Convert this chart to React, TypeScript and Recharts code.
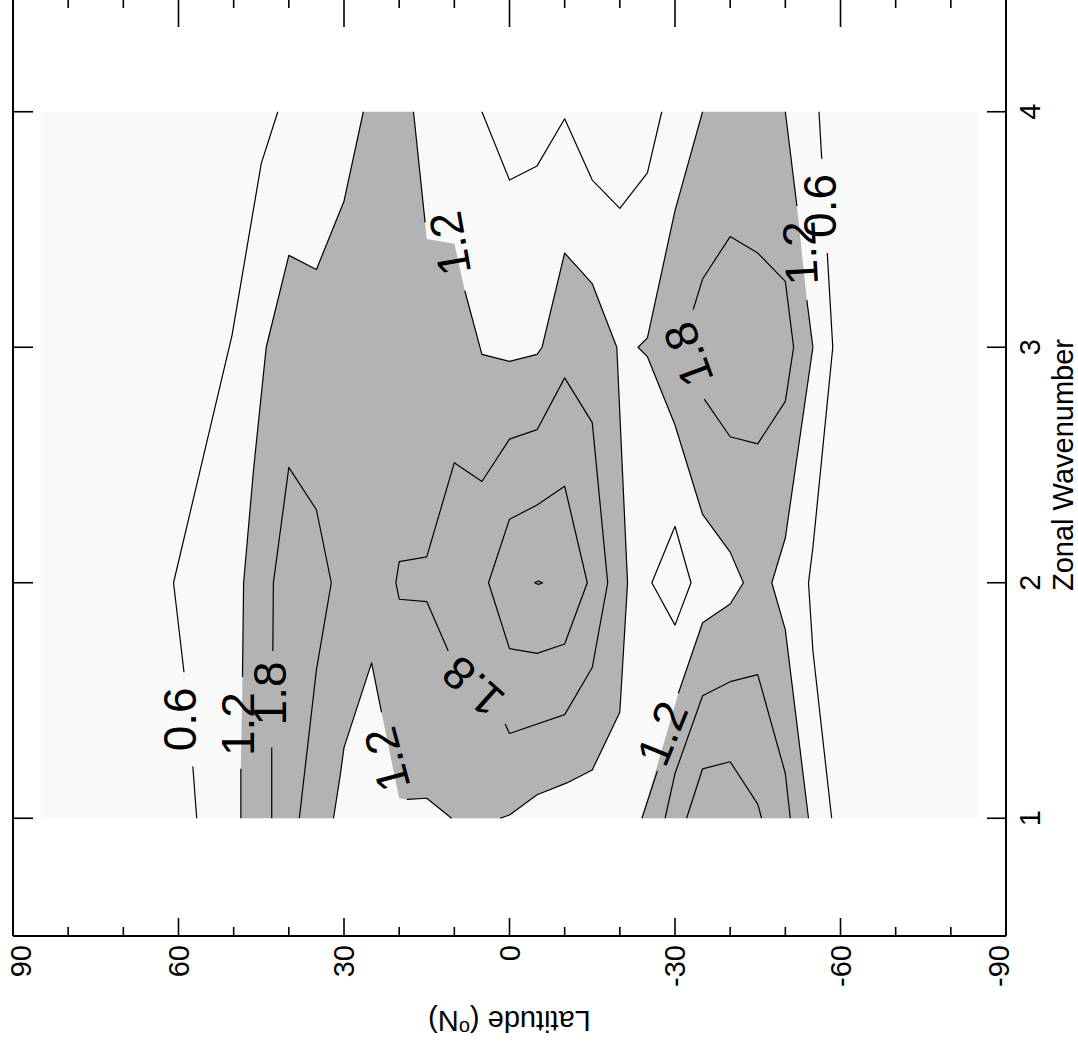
import React from "react";
import { ComposedChart, Scatter, XAxis, YAxis } from "recharts";

const FONT = "'Liberation Sans', Arial, Helvetica, sans-serif";

// axis ticks
const latTicks = [90, 80, 70, 60, 50, 40, 30, 20, 10, 0, -10, -20, -30, -40, -50, -60, -70, -80, -90];
const latLabels = [90, 60, 30, 0, -30, -60, -90];
const waveTicks = [1, 2, 3, 4];
const waveTitleAt = 2.5;

// extent of the gridded field
const fieldLat = [85, 85, -85, -85];
const fieldK = [1, 4, 4, 1];

// shaded region (>= 1.2), north + tropics
const shadeNLat = [26.5, 30, 35, 40, 44.1, 46.4, 48.2, 48.4, 48.7, 48.7, 31.9, 30.7, 30, 25, 23.2, 20, 18.6, 15, 10.5, 1.7, 0, -5, -10.4, -15, -20, -21.4, -19.45, -15, -10, -5.9, -5, 0, 5, 8.1, 10, 15, 15.3, 17.4];
const shadeNK = [4, 3.62, 3.33, 3.39, 3.0, 2.48, 2.0, 1.6, 1.21, 1, 1, 1.18, 1.3, 1.66, 1.45, 1.085, 1.08, 1.085, 1, 1, 1.014, 1.1, 1.15, 1.205, 1.45, 2.0, 3.0, 3.27, 3.4, 3.0, 2.97, 2.94, 2.97, 3.24, 3.44, 3.46, 3.53, 4];

// shaded region (>= 1.2), southern band
const shadeSLat = [-35, -50, -52.1, -53.9, -55, -50, -47.55, -50, -54.2, -24.0, -30.6, -35, -40, -42.4, -40, -35, -30, -25, -23.3, -25, -30];
const shadeSK = [4, 4, 3.6, 3.2, 3.0, 2.19, 2.0, 1.8, 1, 1, 1.53, 1.83, 1.91, 2.0, 2.13, 2.29, 2.67, 2.96, 3.0, 3.04, 3.58];

// contour lines (broken where labels sit)
const west06aLat = [42, 45, 50.3, 60.9, 59.0];
const west06aK = [4, 3.78, 3.05, 2.0, 1.62];
const west06bLat = [57.4, 56.7];
const west06bK = [1.22, 1];

const west12aLat = [26.5, 30, 35, 40, 44.1, 46.4, 48.2, 48.4];
const west12aK = [4, 3.62, 3.33, 3.39, 3.0, 2.48, 2.0, 1.6];
const west12bLat = [48.7, 48.7];
const west12bK = [1.21, 1];

const wedge12aLat = [31.9, 30.7, 30, 25, 23.2];
const wedge12aK = [1, 1.18, 1.3, 1.66, 1.45];
const wedge12bLat = [18.6, 15, 10.5];
const wedge12bK = [1.08, 1.085, 1];

const mid12aLat = [1.7, 0, -5, -10.4, -15, -20, -21.4, -19.45, -15, -10, -5.9, -5, 0, 5, 8.1];
const mid12aK = [1, 1.014, 1.1, 1.15, 1.205, 1.45, 2.0, 3.0, 3.27, 3.4, 3.0, 2.97, 2.94, 2.97, 3.24];
const mid12bLat = [15.3, 17.4];
const mid12bK = [3.53, 4];

const west18aLat = [43.1, 43.1];
const west18aK = [1, 1.3];
const west18bLat = [42.9, 42.8, 40, 35, 32.3, 35, 38.1];
const west18bK = [1.71, 2.0, 2.49, 2.31, 2.0, 1.63, 1];

const mid18Lat = [11.1, 15, 20, 20.6, 20, 15, 10, 5, 0, -5, -10, -15, -17.8, -15, -10, 0, 0.8];
const mid18K = [1.71, 1.92, 1.93, 2.0, 2.09, 2.11, 2.51, 2.43, 2.61, 2.65, 2.87, 2.68, 2.0, 1.64, 1.44, 1.36, 1.4];

const mid24Lat = [0, -5, -10, -14.1, -10, -5, 0, 3.8, 0];
const mid24K = [2.27, 2.33, 2.41, 2.0, 1.74, 1.7, 1.72, 2.0, 2.27];

const mid30Lat = [-4.5, -5.25, -6, -5.25, -4.5];
const mid30K = [2, 2.007, 2, 1.993, 2];

const top06Lat = [5, 0, -5, -10, -15, -20, -25, -27.6];
const top06K = [4, 3.71, 3.77, 3.97, 3.71, 3.59, 3.74, 4];

const dip06Lat = [-30, -32.9, -30, -25.8, -30];
const dip06K = [2.24, 2.0, 1.82, 2.0, 2.24];

const south12LaLat = [-35, -30, -25, -23.3, -25, -30, -35, -40, -42.4, -40, -35, -30.6];
const south12LaK = [4, 3.58, 3.04, 3.0, 2.96, 2.67, 2.29, 2.13, 2.0, 1.91, 1.83, 1.53];
const south12LbLat = [-26.8, -24.0];
const south12LbK = [1.2, 1];

const south12RaLat = [-50, -52.1];
const south12RaK = [4, 3.6];
const south12RbLat = [-53.9, -55, -50, -47.55, -50, -54.2];
const south12RbK = [3.2, 3.0, 2.19, 2.0, 1.8, 1];

const south18aLat = [-35.3, -40, -45, -50, -51.5, -50, -45, -40, -35, -33.3];
const south18aK = [2.78, 2.62, 2.59, 2.77, 3.0, 3.28, 3.4, 3.47, 3.29, 3.16];
const south18bLat = [-28.2, -30, -35, -40, -45, -50, -50.9];
const south18bK = [1, 1.19, 1.52, 1.58, 1.61, 1.19, 1];
const south24Lat = [-32.1, -35, -40, -45, -45.7];
const south24K = [1, 1.21, 1.24, 1.06, 1];

const south06aLat = [-56.1, -56.6];
const south06aK = [4, 3.8];
const south06bLat = [-57.6, -58.6, -55, -54.2, -55, -58.4];
const south06bK = [3.4, 3.0, 2.15, 2.0, 1.71, 1];

// contour labels
const labelText = ["0.6", "1.2", "1.8", "1.2", "1.8", "1.2", "1.8", "1.2", "1.2", "0.6"];
const labelLat = [59.7, 49.2, 43.4, 22.2, 6.6, 10.8, -32.4, -27.7, -52.7, -56.3];
const labelK = [1.42, 1.4, 1.53, 1.25, 1.56, 3.44, 2.97, 1.36, 3.4, 3.6];
const labelAngle = [-90, -90, -90, -105, -138, -100, -110, -68, -93, -90];

const pts = (lat: number[], k: number[]) => lat.map((v, i) => ({ lat: v, k: k[i] }));

const shades = [pts(shadeNLat, shadeNK), pts(shadeSLat, shadeSK)];

const contours = [
  pts(west06aLat, west06aK), pts(west06bLat, west06bK),
  pts(west12aLat, west12aK), pts(west12bLat, west12bK),
  pts(wedge12aLat, wedge12aK), pts(wedge12bLat, wedge12bK),
  pts(mid12aLat, mid12aK), pts(mid12bLat, mid12bK),
  pts(west18aLat, west18aK), pts(west18bLat, west18bK),
  pts(mid18Lat, mid18K), pts(mid24Lat, mid24K), pts(mid30Lat, mid30K),
  pts(top06Lat, top06K), pts(dip06Lat, dip06K),
  pts(south12LaLat, south12LaK), pts(south12LbLat, south12LbK),
  pts(south12RaLat, south12RaK), pts(south12RbLat, south12RbK),
  pts(south18aLat, south18aK), pts(south18bLat, south18bK), pts(south24Lat, south24K),
  pts(south06aLat, south06aK), pts(south06bLat, south06bK),
];

const labels = labelText.map((t, i) => ({ lat: labelLat[i], k: labelK[i], text: t, angle: labelAngle[i] }));

const NoDot = () => <g />;

const ContourLabel = (p: any) => {
  const { cx, cy, payload } = p;
  return (
    <text x={cx} y={cy} transform={`rotate(${payload.angle} ${cx} ${cy})`} textAnchor="middle"
      dominantBaseline="central" fontSize={46} fontFamily={FONT} fill="#000">
      {payload.text}
    </text>
  );
};

const BottomTick = ({ x, y, payload }: any) => {
  const v = payload.value;
  const major = latLabels.includes(v);
  const lx = x + (v === 90 ? 8 : v === -90 ? -7 : 0);
  return (
    <g>
      <line x1={x} x2={x} y1={y} y2={y - (major ? 18 : 9)} stroke="#000" strokeWidth={1.6} />
      {major && (
        <text x={lx} y={y + 9} transform={`rotate(-90 ${lx} ${y + 9})`} textAnchor="end"
          dominantBaseline="central" fontSize={29} fontFamily={FONT} fill="#000">
          {v}
        </text>
      )}
      {v === 0 && (
        <text x={x} y={y + 75} transform={`rotate(180 ${x} ${y + 75})`} textAnchor="middle"
          fontSize={29} fontFamily={FONT} fill="#000">
          Latitude (<tspan dy={-10} fontSize={20}>o</tspan><tspan dy={10}>N)</tspan>
        </text>
      )}
    </g>
  );
};

const TopTick = ({ x, y, payload }: any) => {
  const major = latLabels.includes(payload.value);
  return <line x1={x} x2={x} y1={y} y2={y + (major ? 33 : 14)} stroke="#000" strokeWidth={1.6} />;
};

const LeftTick = ({ x, y }: any) => <line x1={x} x2={x + 20} y1={y} y2={y} stroke="#000" strokeWidth={1.6} />;

const RightTick = ({ x, y, payload }: any) => {
  const v = payload.value;
  if (v === waveTitleAt) {
    return (
      <text x={x + 67} y={y} transform={`rotate(-90 ${x + 67} ${y})`} textAnchor="middle"
        fontSize={29} fontFamily={FONT} fill="#000">
        Zonal Wavenumber
      </text>
    );
  }
  return (
    <g>
      <line x1={x} x2={x - 19} y1={y} y2={y} stroke="#000" strokeWidth={1.6} />
      <text x={x + 24} y={y} transform={`rotate(-90 ${x + 24} ${y})`} textAnchor="middle"
        dominantBaseline="central" fontSize={29} fontFamily={FONT} fill="#000">
        {v}
      </text>
    </g>
  );
};

const frame = { stroke: "#000", strokeWidth: 2 };

export default function App() {
  return (
    <div style={{ position: "absolute", left: 0, top: -10, width: 1078, height: 1052 }}>
      <ComposedChart width={1078} height={1052} margin={{ top: 0, right: 0, bottom: 0, left: 0 }}>
        <XAxis xAxisId="b" orientation="bottom" type="number" dataKey="lat" domain={[-90, 90]} reversed
          allowDataOverflow ticks={latTicks} interval={0} height={106} tickSize={0} tickMargin={0}
          tickLine={false} axisLine={frame} tick={BottomTick} />
        <XAxis xAxisId="t" orientation="top" type="number" dataKey="lat" domain={[-90, 90]} reversed
          allowDataOverflow ticks={latTicks} interval={0} height={4} tickSize={0} tickMargin={0}
          tickLine={false} axisLine={frame} tick={TopTick} />
        <YAxis yAxisId="r" orientation="right" type="number" dataKey="k" domain={[0.5, 4.5]}
          allowDataOverflow ticks={[...waveTicks, waveTitleAt]} interval={0} width={72} tickSize={0}
          tickMargin={0} tickLine={false} axisLine={frame} tick={RightTick} />
        <YAxis yAxisId="l" orientation="left" type="number" dataKey="k" domain={[0.5, 4.5]}
          allowDataOverflow ticks={waveTicks} interval={0} width={13} tickSize={0} tickMargin={0}
          tickLine={false} axisLine={frame} tick={LeftTick} />

        <Scatter xAxisId="b" yAxisId="r" data={pts(fieldLat, fieldK)} shape={NoDot}
          line={{ fill: "#f9f9f9", stroke: "none" }} lineType="joint" isAnimationActive={false} />
        {shades.map((d, i) => (
          <Scatter key={`s${i}`} xAxisId="b" yAxisId="r" data={d} shape={NoDot}
            line={{ fill: "#b3b3b3", stroke: "none" }} lineType="joint" isAnimationActive={false} />
        ))}
        {contours.map((d, i) => (
          <Scatter key={`c${i}`} xAxisId="b" yAxisId="r" data={d} shape={NoDot}
            line={{ fill: "none", stroke: "#000", strokeWidth: 1.2, strokeLinejoin: "round" }}
            lineType="joint" isAnimationActive={false} />
        ))}
        <Scatter xAxisId="t" yAxisId="l" data={labels} shape={ContourLabel} isAnimationActive={false} />
      </ComposedChart>
    </div>
  );
}
